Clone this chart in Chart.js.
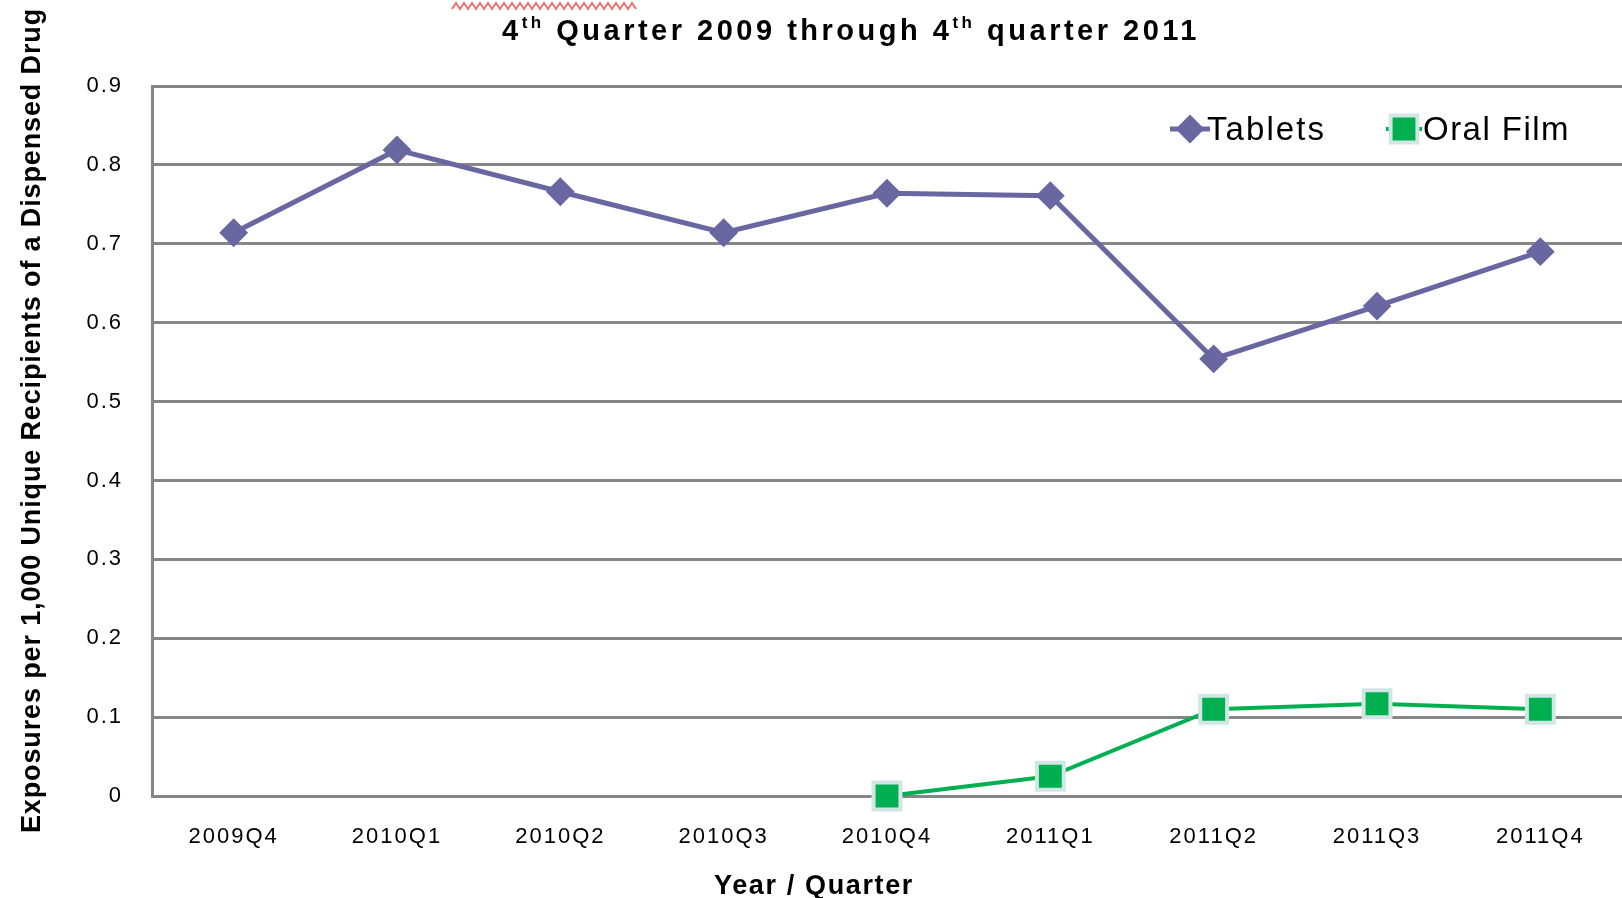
<!DOCTYPE html>
<html>
<head>
<meta charset="utf-8">
<title>Exposures per 1,000 Unique Recipients</title>
<script src="https://cdn.jsdelivr.net/npm/chart.js@4.4.1/dist/chart.umd.min.js"></script>
<style>
  html, body { margin: 0; padding: 0; background: #fff; }
  #wrap { width: 1622px; height: 898px; }
</style>
</head>
<body>
<div id="wrap"><canvas id="exposureChart" width="1622" height="898"></canvas></div>
<script>
// DATA
var quarters = ["2009Q4", "2010Q1", "2010Q2", "2010Q3", "2010Q4", "2011Q1", "2011Q2", "2011Q3", "2011Q4"];
var tablets = [0.714, 0.819, 0.766, 0.714, 0.764, 0.761, 0.554, 0.621, 0.690];
var oralFilm = [null, null, null, null, 0.0, 0.025, 0.110, 0.117, 0.110];
var yTicks = [0, 0.1, 0.2, 0.3, 0.4, 0.5, 0.6, 0.7, 0.8, 0.9];

// TEXT
var seriesNames = ["Tablets", "Oral Film"];
var titleParts = [["4", false], ["th", true], [" Quarter 2009 through ", false], ["4", false], ["th", true], [" quarter 2011", false]];
var yTitle = "Exposures per 1,000 Unique Recipients of a Dispensed Drug";
var xTitle = "Year / Quarter";

// COLOURS
var tabletColor = "#6967A1";
var filmColor = "#00B050";
var filmEdge = "#D2E6E6";
var gridColor = "#868686";
var fontName = '"Liberation Sans", Arial, sans-serif';

var ctx = document.getElementById("exposureChart").getContext("2d");

// draw a list of [text, superscript] spans from x, spaced out to a given width
function drawSpans(c, parts, x, y, size, width, weight) {
    var plain = 0, count = 0;
    var w8 = weight ? weight + " " : "";
    c.letterSpacing = "0px";
    parts.forEach(function(p) {
        c.font = w8 + (p[1] ? Math.round(size * 0.6) : size) + "px " + fontName;
        plain += c.measureText(p[0]).width;
        count += p[0].length;
    });
    var ls = (width - plain) / count;
    parts.forEach(function(p) {
        c.letterSpacing = "0px";
        c.font = w8 + (p[1] ? Math.round(size * 0.6) : size) + "px " + fontName;
        var w = c.measureText(p[0]).width;
        c.letterSpacing = ls + "px";
        c.fillText(p[0], x, p[1] ? y - size * 0.42 : y);
        x += w + ls * p[0].length;
    });
}

var textPlugin = {
    id: "textPlugin",
    beforeDraw: function(chart) {
        chart.ctx.letterSpacing = "2px";
    },
    afterDraw: function(chart) {
        var c = chart.ctx;
        c.save();
        c.fillStyle = "#000";
        c.textAlign = "left";
        c.textBaseline = "alphabetic";

        // spell-check squiggle left over from the top title line
        c.strokeStyle = "rgba(240,60,60,0.75)";
        c.lineWidth = 2;
        c.beginPath();
        for (var sx = 452; sx <= 636; sx += 4) {
            var sy = ((sx - 452) / 4) % 2 === 0 ? 9 : 3;
            if (sx === 452) c.moveTo(sx, sy); else c.lineTo(sx, sy);
        }
        c.stroke();

        // title
        drawSpans(c, titleParts, 502, 40, 29, 698, "bold");

        // x axis title
        drawSpans(c, [[xTitle, false]], 714, 894, 27, 200, "bold");

        // y axis title
        c.save();
        c.translate(40, 833);
        c.rotate(-Math.PI / 2);
        drawSpans(c, [[yTitle, false]], 0, 0, 27, 825, "bold");
        c.restore();

        // legend
        var ly = 129;
        c.strokeStyle = tabletColor;
        c.lineWidth = 5;
        c.beginPath();
        c.moveTo(1170, ly);
        c.lineTo(1210, ly);
        c.stroke();
        c.fillStyle = tabletColor;
        c.lineWidth = 2;
        Chart.helpers.drawPoint(c, { pointStyle: "rectRot", radius: 13, rotation: 0, borderWidth: 2 }, 1190, ly);

        c.strokeStyle = filmColor;
        c.lineWidth = 4;
        c.beginPath();
        c.moveTo(1386, ly);
        c.lineTo(1422, ly);
        c.stroke();
        c.fillStyle = filmColor;
        c.strokeStyle = filmEdge;
        c.lineWidth = 4;
        Chart.helpers.drawPoint(c, { pointStyle: "rect", radius: 19, rotation: 0, borderWidth: 4 }, 1404, ly);

        c.fillStyle = "#000";
        drawSpans(c, [[seriesNames[0], false]], 1207, 140, 33, 119);
        drawSpans(c, [[seriesNames[1], false]], 1423, 140, 33, 147);
        c.restore();
    }
};

var exposureChart = new Chart(ctx, {
    type: "line",
    data: {
        labels: quarters,
        datasets: [{
            label: seriesNames[0],
            data: tablets,
            borderColor: tabletColor,
            backgroundColor: tabletColor,
            borderWidth: 5,
            pointStyle: "rectRot",
            pointRadius: 13,
            pointHoverRadius: 13,
            pointBorderWidth: 2,
            pointBackgroundColor: tabletColor,
            pointBorderColor: tabletColor,
            tension: 0,
            clip: false
        }, {
            label: seriesNames[1],
            data: oralFilm,
            borderColor: filmColor,
            backgroundColor: filmColor,
            borderWidth: 4,
            pointStyle: "rect",
            pointRadius: 19,
            pointHoverRadius: 19,
            pointBorderWidth: 4,
            pointBackgroundColor: filmColor,
            pointBorderColor: filmEdge,
            tension: 0,
            spanGaps: false,
            clip: false
        }]
    },
    options: {
        responsive: false,
        devicePixelRatio: 1,
        animation: false,
        layout: { autoPadding: false, padding: { top: 86, left: 0, right: 0, bottom: 0 } },
        plugins: {
            legend: { display: false },
            title: { display: false },
            tooltip: { enabled: false }
        },
        scales: {
            x: {
                offset: true,
                grid: { display: false, drawTicks: false },
                border: { display: true, color: gridColor, width: 3 },
                ticks: {
                    color: "#000",
                    padding: 28,
                    maxRotation: 0,
                    autoSkip: false,
                    font: { family: fontName, size: 22 }
                },
                afterFit: function(scale) {
                    scale.height = 102;
                    scale.paddingLeft = 0;
                    scale.paddingRight = 0;
                }
            },
            y: {
                min: 0,
                max: 0.9,
                grid: { color: gridColor, lineWidth: 3, drawTicks: false },
                border: { display: true, color: gridColor, width: 3 },
                ticks: {
                    color: "#000",
                    padding: 29,
                    font: { family: fontName, size: 22 }
                },
                afterBuildTicks: function(scale) {
                    scale.ticks = yTicks.map(function(v) { return { value: v }; });
                },
                afterFit: function(scale) {
                    scale.width = 152;
                    scale.paddingTop = 0;
                    scale.paddingBottom = 0;
                }
            }
        }
    },
    plugins: [textPlugin]
});
</script>
</body>
</html>
